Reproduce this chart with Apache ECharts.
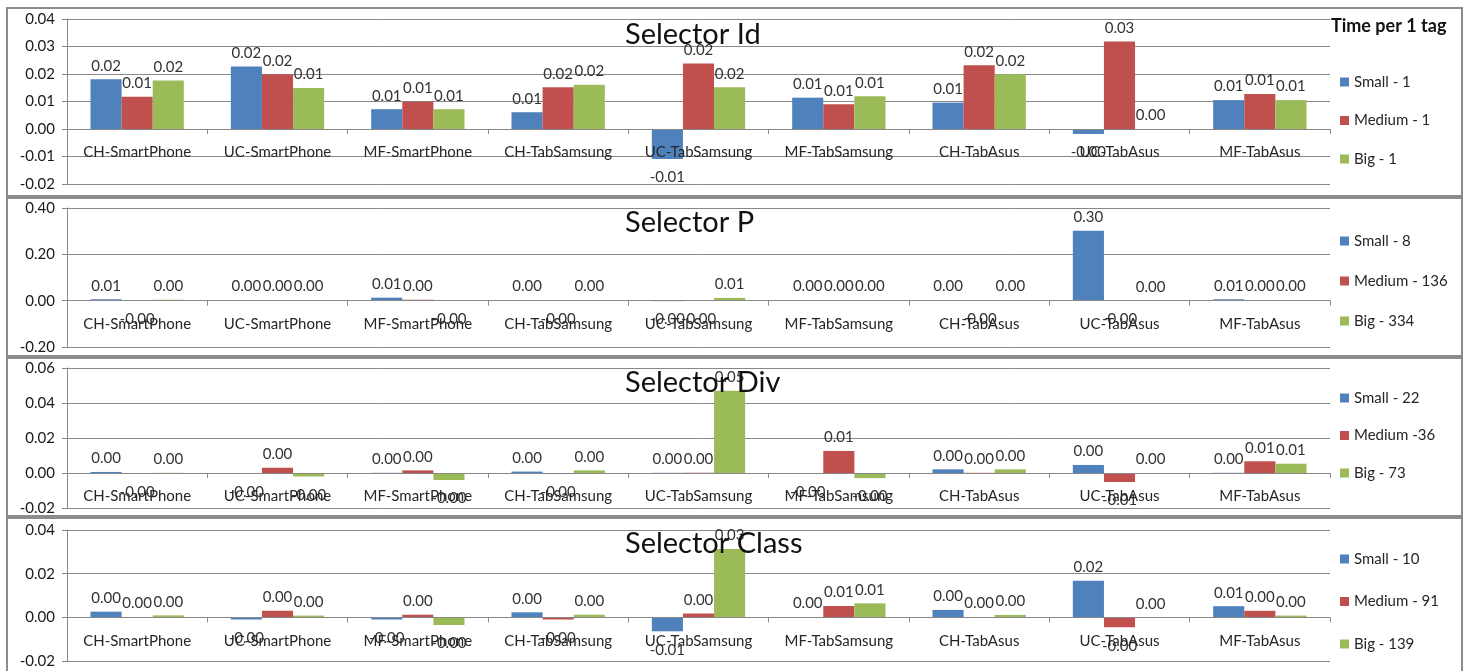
<!DOCTYPE html>
<html>
<head>
<meta charset="utf-8">
<script src="https://cdn.jsdelivr.net/npm/echarts@6/dist/echarts.min.js"></script>
<style>
  html, body { margin: 0; padding: 0; background: #ffffff; }
  #chart { width: 1469px; height: 671px; }
</style>
</head>
<body>
<div id="chart"></div>
<script>
// Device / browser combinations on the category axis
const categories = [
  'CH-SmartPhone', 'UC-SmartPhone', 'MF-SmartPhone',
  'CH-TabSamsung', 'UC-TabSamsung', 'MF-TabSamsung',
  'CH-TabAsus', 'UC-TabAsus', 'MF-TabAsus'
];

// Selector Id
const idNames = ['Small - 1', 'Medium - 1', 'Big - 1'];
const idSmall  = [0.0181, 0.0227, 0.0072, 0.0061, -0.0109, 0.0114, 0.0096, -0.0018, 0.0105];
const idMedium = [0.0117, 0.0199, 0.0099, 0.0152, 0.0238, 0.0090, 0.0232, 0.0318, 0.0127];
const idBig    = [0.0176, 0.0149, 0.0072, 0.0161, 0.0152, 0.0119, 0.0199, 0.0000, 0.0105];

// Selector P
const pNames = ['Small - 8', 'Medium - 136', 'Big - 334'];
const pSmall  = [0.006, 0.003, 0.013, 0.003, -0.002, 0.003, 0.003, 0.302, 0.006];
const pMedium = [-0.001, 0.003, 0.004, -0.001, -0.001, 0.003, -0.001, -0.001, 0.003];
const pBig    = [0.004, 0.003, -0.001, 0.003, 0.012, 0.003, 0.003, 0.001, 0.003];

// Selector Div
const divNames = ['Small - 22', 'Medium -36', 'Big - 73'];
const divSmall  = [0.0006, -0.0005, 0.0001, 0.0008, 0.0001, -0.0005, 0.0021, 0.0046, 0.0001];
const divMedium = [-0.0005, 0.0030, 0.0015, -0.0006, 0.0002, 0.0126, 0.0001, -0.0052, 0.0067];
const divBig    = [0.0001, -0.0020, -0.0040, 0.0015, 0.0470, -0.0029, 0.0021, 0.0000, 0.0053];

// Selector Class
const clsNames = ['Small - 10', 'Medium - 91', 'Big - 139'];
const clsSmall  = [0.0026, -0.0010, -0.0010, 0.0023, -0.0064, 0.0001, 0.0034, 0.0167, 0.0051];
const clsMedium = [0.0001, 0.0030, 0.0012, -0.0010, 0.0017, 0.0052, 0.0001, -0.0045, 0.0030];
const clsBig    = [0.0009, 0.0008, -0.0035, 0.0012, 0.0313, 0.0064, 0.0011, 0.0000, 0.0008];

// Value axis ranges per panel
const axisMin = [-0.02, -0.20, -0.02, -0.02];
const axisMax = [0.04, 0.40, 0.06, 0.04];
const axisStep = [0.01, 0.20, 0.02, 0.02];

const panelTitles = ['Selector Id', 'Selector P', 'Selector Div', 'Selector Class'];
const legendTitle = 'Time per 1 tag';

const colors = ['#4F81BD', '#C0504D', '#9BBB59'];
const FONT = 'Lato, "Open Sans", sans-serif';
const GRID_COLOR = '#888888';

// Category names sit a fixed distance under the zero line of each panel.
const LABEL_BELOW_ZERO = 16;

const panels = [
  { names: idNames,  values: [idSmall, idMedium, idBig],   top: 19,  height: 165, titleTop: 20,  legendTop: 74,  legendGap: 22.5, frame: [7, 8, 1455, 188] },
  { names: pNames,   values: [pSmall, pMedium, pBig],      top: 208, height: 139, titleTop: 208, legendTop: 233, legendGap: 24,   frame: [7, 198, 1455, 158] },
  { names: divNames, values: [divSmall, divMedium, divBig], top: 368, height: 140, titleTop: 368, legendTop: 390, legendGap: 21.5, frame: [7, 358, 1455, 158] },
  { names: clsNames, values: [clsSmall, clsMedium, clsBig], top: 530, height: 131, titleTop: 529, legendTop: 551, legendGap: 26.5, frame: [7, 518, 1455, 160] }
];

// distance (px) between the grid bottom and the zero line of a panel
function zeroOffset(p, i) {
  return p.height * (0 - axisMin[i]) / (axisMax[i] - axisMin[i]);
}

// value labels: above positive bars, below negative ones
function barData(values) {
  return values.map(v => ({
    value: v,
    label: v < 0 ? { position: 'bottom', distance: 11 } : { position: 'top', distance: 6 }
  }));
}

const chart = echarts.init(document.getElementById('chart'), null, { renderer: 'canvas' });

const titles = panels.map((p, i) => ({
  text: panelTitles[i],
  left: 625,
  top: p.titleTop,
  padding: 0,
  textStyle: { fontFamily: FONT, fontSize: 29, fontWeight: 'normal', color: '#111111', lineHeight: 30 }
}));
titles.push({
  text: legendTitle,
  left: 1331,
  top: 17,
  padding: 0,
  textStyle: { fontFamily: FONT, fontSize: 18, fontWeight: 'bold', color: '#111111' }
});

const option = {
  animation: false,
  backgroundColor: '#ffffff',
  title: titles,
  graphic: panels.map(p => ({
    type: 'rect',
    shape: { x: p.frame[0], y: p.frame[1], width: p.frame[2], height: p.frame[3] },
    style: { fill: 'none', stroke: '#8c8c8c', lineWidth: 2 },
    z: -10
  })),
  legend: panels.map(p => ({
    data: p.names,
    orient: 'vertical',
    left: 1340,
    top: p.legendTop,
    padding: 0,
    itemGap: p.legendGap,
    itemWidth: 9,
    itemHeight: 9,
    icon: 'rect',
    selectedMode: false,
    textStyle: { fontFamily: FONT, fontSize: 15, color: '#262626', lineHeight: 16 }
  })),
  grid: panels.map(p => ({ left: 67, right: 139, top: p.top, height: p.height })),
  xAxis: panels.map((p, i) => ({
    type: 'category',
    gridIndex: i,
    data: categories,
    z: 5,
    axisLine: { onZero: true, lineStyle: { color: GRID_COLOR, width: 1 } },
    axisTick: { show: true, length: 5, lineStyle: { color: GRID_COLOR } },
    axisLabel: {
      interval: 0,
      margin: LABEL_BELOW_ZERO - zeroOffset(p, i),
      fontFamily: FONT, fontSize: 15, color: '#262626'
    },
    splitLine: { show: false }
  })),
  yAxis: panels.map((p, i) => ({
    type: 'value',
    gridIndex: i,
    min: axisMin[i],
    max: axisMax[i],
    interval: axisStep[i],
    axisLine: { show: true, lineStyle: { color: GRID_COLOR, width: 1 } },
    axisTick: { show: true, length: 5, lineStyle: { color: GRID_COLOR } },
    axisLabel: {
      margin: 12,
      fontFamily: FONT, fontSize: 15, color: '#1a1a1a',
      formatter: v => Number(v).toFixed(2)
    },
    splitLine: { show: true, lineStyle: { color: GRID_COLOR, width: 1 } }
  })),
  series: []
};

panels.forEach((p, i) => {
  p.values.forEach((vals, k) => {
    option.series.push({
      type: 'bar',
      name: p.names[k],
      xAxisIndex: i,
      yAxisIndex: i,
      data: barData(vals),
      barGap: '0%',
      barCategoryGap: '33.5%',
      itemStyle: { color: colors[k] },
      label: {
        show: true,
        fontFamily: FONT,
        fontSize: 15,
        color: '#333333',
        formatter: d => Number(d.value).toFixed(2)
      }
    });
  });
});

chart.setOption(option);
</script>
</body>
</html>
